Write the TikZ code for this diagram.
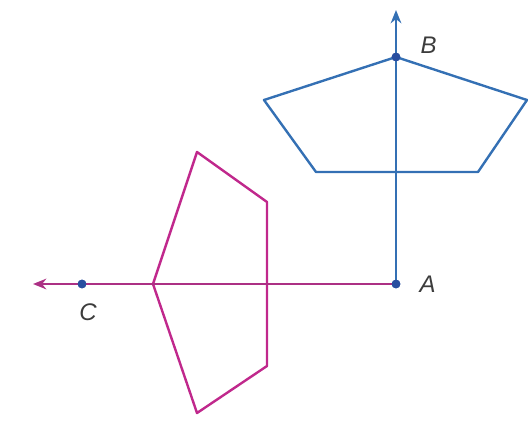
\documentclass[tikz,border=0pt]{standalone}
\usepackage{fontspec}
\setmainfont{Liberation Sans}
\usetikzlibrary{arrows.meta}

\definecolor{rayblue}{RGB}{52,112,180}
\definecolor{raymag}{RGB}{192,40,140}
\definecolor{linemag}{RGB}{172,48,132}
\definecolor{dotblue}{RGB}{40,78,160}
\definecolor{labelgray}{RGB}{60,60,60}

\begin{document}
\begin{tikzpicture}[x=0.75pt, y=-0.75pt, line join=round,
    every node/.style={font=\fontsize{18}{20}\selectfont\itshape, text=labelgray},
    ray/.style={line width=1.9pt, -{Stealth[length=10pt, width=8pt]}},
    poly/.style={line width=1.8pt},
    pt/.style={circle, fill=dotblue, inner sep=0pt, minimum size=6.5pt}]
  \useasboundingbox (0,0) rectangle (528,432);

  % points on the rays
  \node[pt] (A) at (396,284) {};
  \node[pt] (B) at (396,57) {};
  \node[pt] (C) at (82,284) {};
  \coordinate (Atip) at (396,10);
  \coordinate (Ctip) at (33,284);

  % labels
  \node[anchor=west] (Alab) at (415,284) {A};
  \node[anchor=west] (Blab) at (416,45) {B};
  \node (Clab) at (88,312) {C};

  % blue pentagon with ray AB
  \draw[poly, rayblue] (B.center) -- (527,100) -- (478,172) -- (316,172) -- (264,100) -- cycle;
  \draw[ray, rayblue] (A.center) -- (Atip);

  % magenta pentagon with ray AC
  \draw[poly, raymag] (153,284) -- (197,152) -- (267,202) -- (267,366) -- (197,413) -- cycle;
  \draw[ray, linemag] (A.center) -- (Ctip);

  % dots on top
  \node[pt] at (A) {};
  \node[pt] at (B) {};
  \node[pt] at (C) {};
\end{tikzpicture}
\end{document}
